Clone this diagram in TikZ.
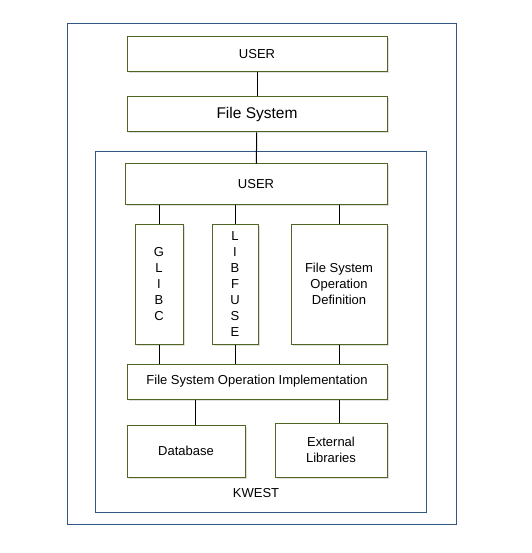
\documentclass[tikz,border=0pt]{standalone}
\usepackage{fontspec}
\setmainfont{Liberation Sans}
\usepackage{tikz}
\usetikzlibrary{shadows}
\tikzset{layer/.style = {draw=kolive, line width=1pt, fill=white, align=center,
                         inner sep=0pt, font=\fontsize{13}{16}\selectfont,
                         drop shadow={shadow xshift=1.5pt, shadow yshift=-1.5pt,
                                      opacity=0.25}},
         frame/.style = {draw=kblue, line width=1pt},
         link/.style = {line width=1pt}}
\definecolor{kolive}{RGB}{80,100,36}
\definecolor{kblue}{RGB}{52,88,134}

\begin{document}
\begin{tikzpicture}[x=1pt, y=-1pt]
      \fill [white] (0, 0) rectangle (531, 553);
      \draw [frame] (67, 24) rectangle (456, 524);
      \draw [frame] (95, 152) rectangle (426, 512);

      \node [layer, minimum width=260, minimum height=35] (user) at (257, 54.5) {USER};
      \node [layer, minimum width=260, minimum height=35,
             font=\fontsize{15.5}{18}\selectfont] (fs) at (257, 114.5) {File System};
      \node [layer, minimum width=262, minimum height=40] (kuser) at (256, 184) {USER};
      \node [layer, minimum width=48, minimum height=120] (glibc) at (159, 284) {G\\L\\I\\B\\C};
      \node [layer, minimum width=46, minimum height=120] (libfuse) at (235, 284) {L\\I\\B\\F\\U\\S\\E};
      \node [layer, minimum width=96, minimum height=120] (fsod) at (339, 284)
            {File System\\Operation\\Definition};
      \node [layer, minimum width=260, minimum height=35] (fsoi) at (257, 381.5)
            {File System Operation Implementation};
      \node [layer, minimum width=118, minimum height=52] (db) at (186, 451) {Database};
      \node [layer, minimum width=112, minimum height=54] (ext) at (331, 450) {External\\Libraries};
      \node [font=\fontsize{13}{16}\selectfont] (kwest) at (256, 493) {KWEST};

      \draw [link] (user) -- (fs);
      \draw [link] (fs) -- (kuser);
      \foreach \n in {glibc, libfuse, fsod} {
        \draw [link] (kuser.south -| \n) -- (\n.north);
        \draw [link] (\n.south) -- (fsoi.north -| \n);
      }
      \draw [link] ([xshift=9]db.north |- fsoi.south) -- ([xshift=9]db.north);
      \draw [link] ([xshift=8]ext.north |- fsoi.south) -- ([xshift=8]ext.north);
    \end{tikzpicture}
\end{document}
